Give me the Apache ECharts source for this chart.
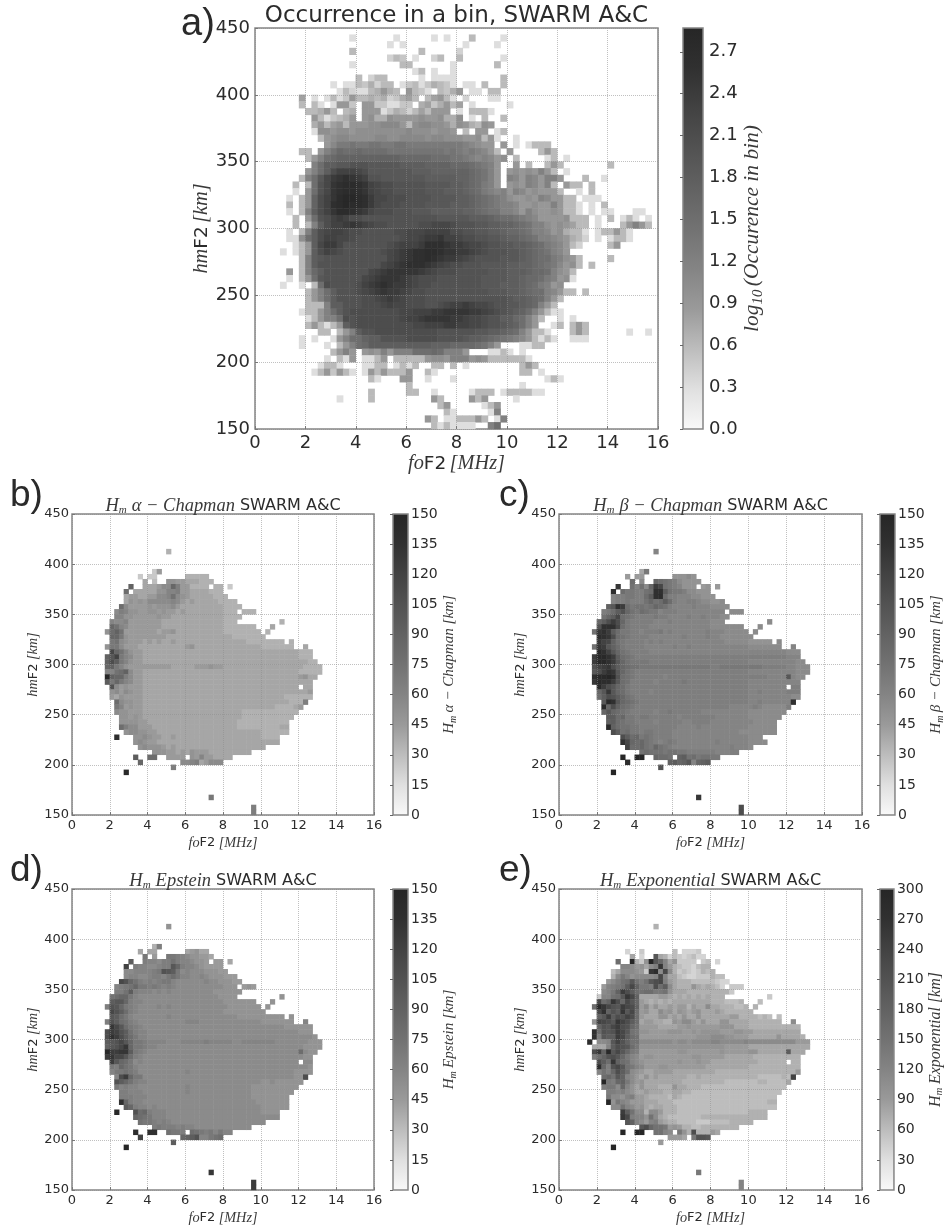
<!DOCTYPE html>
<html><head><meta charset="utf-8">
<style>html,body{margin:0;padding:0;background:#fff}#c{width:946px;height:1229px}</style>
<script src="https://cdn.jsdelivr.net/npm/echarts@6/dist/echarts.min.js"></script>
</head><body><div id="c"></div>
<script>
// Each string is one row of bins, top row = 445-450 km. Each character is one 0.25 MHz bin ('.' = empty),
// base-36; spaces only group the bins into 2 MHz blocks for reading.
// Occurrence: char x 0.1 = log10(count)
const occurrenceRows=[
"",
"........ .......3 ......3. ....3.3. ..6....3",
"........ ........ .....3.3 ........ .3....3.",
"........ .......6 ........ ..6..... 4",
"........ ........ .....465 .3..46.. 6......3",
"........ .......3 .......6 6......3 ......6",
"........ ........ ........ .36.3..3",
"........ ........ 6.466... ..3.3333 .......6",
"........ ....3.33 657466.3 56357653 .33.6..6",
"........ .....364 3367976. 9653.657 9.33.66",
".......8 .3.36359 66767457 86.68963 .4...33",
".......6 .63.3995 .9955335 5.785796 8.3..... 3",
"........ 66796.67 .9993576 4686999. 3.6663",
"........ .9635679 .9a77a99 99a99a77 a.3.6..6",
"........ .7968969 99aabbb9 6abbaa97 a976a9.",
"........ .3aa9aa9 aaaaaaaa baaa9aa9 .6.99.36",
"........ ..69abba aaabbaab bbbabbaa a99a693. .3",
"........ ...9bdde ddeeddee dddddddd dcba99.9 .3.3666.",
".......6 6.9cegff gffffeee eeeeeede dcdcb96. 9....696",
"........ 69cfghhh hhhhhhhg ggggfffe edcbcb9a .6....36 .3",
"........ .cfiijjk kkjjjjji iiihhhhg ggfedc9. .9.6..69 6....... 6",
"........ 9cfilnnn mljjjjjj jiiihhhh hhgfec9. 9a9a9c96 .3",
".......6 cfjmopqp onkkjjjj jjjiiiii hhgfec9. cb9cb9cc 9...6..3",
"......6. 6fkmpqrr qpnmllkk kkkjjjji ihgfdc9. 9a9cb9c6 .966.6",
"......3. 9fkmpqrr qpnmllkk kkkjjjii ihgfdcbc 9cb9a999 6..3.6",
".....3.6 9hlnprss rqommlll kkkkjjjj iihgfedc a99a9cb9 966.333",
".....6.6 9hlnqrsr rqomlllk kkkjjjji iihgfedc cb99a99c 9663.3.6",
".....3.6 cilnprrq pomlllkk kjjjiiii ihhgfeec cb9ca99a 9663.3.3 3...33",
"......6. 9fklnonl lkkkkkkk kkkkkjjj jjiiihgf fedcb999 9a666.3. 6.363.3",
"......6. 6cilnnop onmllkkk kkllmmml kkkjjiih hgfecca9 a9866.3. ..69c96",
".....3.6 cilmnnml lkkkkkll mmmnnnnl lkkjjiih ggfeccb9 a7663.36 6963",
".....33a filnnmml kkkkkkkl mmnoopnn mllkkjji hhgfeccb a9764.3. 3663",
"......36 9imoomkk kkkkklmn nnoqqqpo onmmlkkj jiihgfdc b964.... 69",
"....3.36 9ilnmlkk kkkklmno pqqrrqpp oonmlkkk jjihgfec b9",
".......6 cijkkkkk kkkkkmno pqqrqpoo nmlkkkkj jjihgffd ca96.... 6",
".......6 cikkkkkk kkkkmnop qqqponml lkkkjjjj iihhgfed b9a6.6",
".....9.6 cgikkkkk kkmnoppp pponmlll kkkkkjjj iiihggfc a96",
".....3.6 9fjkkkkk kmnopppo nmlllkkk kkkkjjjj iihggfdc 9a3",
"....3..3 .6flkkkk lnopqpoo nmllkkkk kkkkjjji iihgfdc9 a",
"........ 69cfikkk lmnopoon mllkkkkk kkkkkjjj iihgffcb 966.6",
"........ 69cfikkk kllmnonm lllkkkkk kkkkkkkk jiihgfc9 6",
"........ 666ciikk klllmnmm lllkklmn nonmmlkk jjihgc96",
".......3 669cfikl lllllllm mnnnoopp ppoonmlk jihfc963 3",
"........ 369ccflk lllllllm nnoppppo onmmlkki igfc96.. 3.3",
"........ 696369ik llllllll lmmnnnoo nnmmlkkj ihfc9..3 6.696",
"........ ..66.69c ikklllll lllllkkk kkkjjiih gfc9663. ..696... ...3..3.",
".......3 .3..39cf fhiikkkk lllllkkk kjiihgfe dcb96363 ..333",
".......3 ...3.69c fgiiiiii iiiihhhg gggfec9. ..3366",
"........ ....69c9 .9a9c9cc cfffgfcc c9...336 3.3",
"........ ...3.639 .3369.66 6669aa9c cc9a9666 6663",
"........ ..3663.. .3366.36 36..66.6 .3...... ..696",
"........ .3695963 .3969666 9..63... ........ ..66.3",
"........ ........ ..63...9 9..3...3 ........ ......36 3",
"........ ........ ........ 6....... ........ ..3",
"........ ........ ..6..... 66..3... ..3666.3 666633",
"........ .....3.. ..6..... ....96.. ..969... .3",
"........ ........ ........ .....69. ....369",
"........ ........ ........ ......63 .....3c",
"........ ........ ........ ...96.33 66696.3c",
"........ ........ ........ ....6363 333..cf"
];
// Alpha-Chapman: char x 5 km
const alphaRows=[
"","","","","","","",
"........ ........ ....7",
"","","",
"........ ........ .59",
"........ ......5. 55...... 77777",
"........ .......8 .6..aa99 888777..",
"........ ....i..8 889bbhd9 97777.77 .5",
"........ ...g.888 88aaccd9 98888777",
"........ ...89988 99bbcfba 98888877 7",
"........ ...8a9a9 bbbbbcb9 89888887 777",
"........ ..gb9999 a9aaab98 88888888 7777",
"........ .bdcaa99 aa9a9989 88888888 777.777",
"........ .ccaa999 99a99888 88888888 7777",
"........ cbbc9999 99988888 88888888 777..... ....7",
"........ hfcb9999 99988888 88888888 7777777. ..8",
".......a gif99999 99899a88 88888888 77777777 .7",
"........ hhea9999 99998888 88888888 88777777 7",
"........ efba9998 98988988 88888888 88888777 77777.7.",
".......a eeb99988 88888888 9a888888 88888888 7777777. .8",
"........ nhfca998 88888888 88888888 88888888 88888888 777",
".......i koecb998 88888888 88888888 88888888 88888888 777",
".......i mjeca998 88888888 88888888 88888888 88888888 8877",
".......h ieca9999 99999888 88999a99 88888888 88888888 87777",
".......c cfgib998 88888888 88888888 88888888 88888888 77777",
".......u ihhdb998 88888888 88888888 88888888 88888888 9a88",
".......j ehecb998 88888888 88888888 88888888 88888888 888",
"........ lb9a9998 88888888 88888888 88888888 88888888 .88",
"........ ab9ba998 88888888 88888888 88888888 88888888 889",
"........ 98a99998 88888888 88888888 88888888 88888777 777",
"........ .gbaa998 88888888 88888888 88888888 88888877 7d",
"........ .ec9a998 88888888 88888888 88888888 88877778 9",
"........ .baa9998 88888888 88888888 88887777 77777777",
"........ ..aa9a98 88888888 88888888 88887777 7777777",
"........ ..aaaa99 88888888 88888888 88877777 777777",
"........ ..gdbb99 98888888 88888888 88877777 777788",
"........ ...abbaa 99888888 88888888 88888888 777777",
"........ .s...aab a9988988 88888888 88888888 7777",
"........ .....aba 99888888 88888888 88888888 8888",
"........ ......ab aaa98988 88888888 88888888 8",
"........ ........ .aaa9989 8a999888 888888",
"........ .....j.. gg..9999 .a9c9988 88",
"........ ......h. .......b bcd89bbb",
"........ ........ .....d",
"........ ...t",
"","","","",
"........ ........ ........ .....e",
"",
"........ ........ ........ ........ ......d",
"........ ........ ........ ........ ......d",
"........ ........ ........ ........ .....e"
];
// Beta-Chapman: char x 5 km
const betaRows=[
"","","","","","","",
"........ ........ ....c",
"","","",
"........ ........ .8e",
"........ ......9. 99...... aaaba",
"........ .......g .b..hgfe dbaaaa..",
"........ ....q..f cfbhpnfe dcaaa.9a .9",
"........ ...s.gee ddfgrrjf eedbbaaa",
"........ ...cddee ddgjrsgd dcccbbaa a",
"........ ...cdded ddfhfgjg dccddcbb aab",
"........ ..ikrpge ffefhgfd ccccdccc bbbb",
"........ .degjlhf egfeecdd dccccccc ccc.bbb",
"........ .fhjngfe ddddeddc cccdccdc ccbb",
"........ hjmpmhed ddddcccd cccccccc bbb..... ....b",
"........ lrrrnged dddccccc cccccccc bbbbbbb. ..b",
".......f qrpjgeed dcdddecd cccccccd cccbbbbb .b",
"........ srqmgfed dddccccc ccdccccd ccbbbbbb b",
"........ qonifedd ddcdcdcc cccccccc cccbbbbb aaaaa.b.",
".......f qpkigedd ddcccccc dccdcccc cccccccc bbbbbbb. .c",
"........ trokhfed dddccccc cccccccc cccccccc cccccccc bbb",
".......p ttrpjgfe dddddddd dddddddd dddddddd dddddddd ccc",
".......p ttrpkhfe eeeddddd dddddddd dddddddd cccccccc ccbb",
".......l opqmjhgf feeeeeee eeeeeeee ddeeeeee eeeddddd ccbbb",
".......k mprqkhfe dddddddd dddddddd dddddddd cccccccc ccbbb",
".......s ttuslgfe ddddddcd dddddddd dddddddd ddddcccc kcbb",
".......q tsspkgfd ddddcddd ddeddddd dddddddd cccccccc ccc",
"........ tpmkhged dddddddd dddddddd dddddddd cccccccc .dd",
"........ hkqkhged dddcdddd dddddddd dddddddd ccdccccc ddd",
"........ gjmljhfe dddddddd dddddddd dddddddd cccccccc cbb",
"........ .ktrkhgf eddddddd dddddddd dddddddd ccdccccc cr",
"........ .thmigfe dddddddd dddddddd ddddcccc cdcbbbbb d",
"........ .hkhgfed ddddcdde ddddddcc cccccccc bbbbbbbb",
"........ ..jjghee deeddddd dcdddddd dccccccc bbbbbbb",
"........ ..ijgfee ddddcddd ddccdddd cccccccc cbbbbb",
"........ ..tigffe eddddddd dccccdcc cccccccc bbbbbb",
"........ ...mjfge edeedddd cccccccc ccccccbb bbbbbb",
"........ .....mjg hefedddd cccccccc cccccccc bbb",
"........ .....rnh ghfedcde dccccccc cdcccccc bbbb",
"........ ......og ghfehfed cccccccc ccccdccc b",
"........ ........ .fgfffef feeddddd dcccdd",
"........ .....u.. uu..hggf .ijfgeff ee",
"........ ......s. .......i jhikchij",
"........ ........ .....l",
"........ ...u",
"","","","",
"........ ........ ........ .....q",
"",
"........ ........ ........ ........ ......m",
"........ ........ ........ ........ ......m",
"........ ........ ........ ........ .....o"
];
// Epstein: char x 5 km
const epsteinRows=[
"","","","","","","",
"........ ........ ....a",
"","","",
"........ ........ .7d",
"........ ......8. 88...... 89a88",
"........ .......e .9..eedc baa998..",
"........ ....j..d ccbddfdc cbaa9.99 .8",
"........ ...o.dcc bbcddkhd ccba9999",
"........ ...bbccc cdelkjeb cbbbaaa9 9",
"........ ...bccbb cddcegec cbbcbaaa 999",
"........ ..nlhfdc dcdeecbb bbbbcbba aa99",
"........ .cdefhee dedcdcbb bbbbbbbb aaa.9a9",
"........ .ddfjdcc cbcbcbbb bbbbbbaa aaaa",
"........ fghhecbb bbbbbbbb bbbbbbba aaa..... ....a",
"........ jkkhdccb bbbbbbbb bbbbbbbb aaaaaaa. ..a",
".......d lkhedcbb bbcbcbbb bbbbbbbb baaaaaaa .a",
"........ nljgdcbb bbbbbbbb bbbbbbbb aaaaaaaa a",
"........ kjgecbbb bbbbcbbb bbbbbbbb bbbaaaaa aaaaa.a.",
".......d ljgfdcbb bbbbbbbb cccbbbbb bbbbbbbb aaaaaaa. .c",
"........ qnkgedcb bbbbbbbb bbbbbbbb bbbbbbbb bbbbbaaa aaa",
".......m poljfdcc bbbbbbbb bbbbbbbb bbbbbbbb bbbbbbbb aaa",
".......m rpmjgecc bbbbbbbb bbbbbbbb bbbbbbbb bbbbbbbb bbba",
".......j klnkheed ccccbbbc ccccdccc ccbbcccc cccbbbbb bbaaa",
".......i klnqheed ccbbbbbb bbbbbbbb bbbbbbbb bbbbbbbb baaaa",
".......t ppqqjedc bbbbbbbb bbbbbbbb bbbbbbbb bbbbbbbb gbaa",
".......p qnnkgdcb bbbbbbbb bbbbbbbb bbbbbbbb bbbbbbbb baa",
"........ pkhgebcb bbbbbbbb bbbbbbbb bbbbbbbb bbbbbbbb .bb",
"........ edhfecbb bbbbbbbb bbbbbbbb bbbbbbbb bbbbbbbb bba",
"........ ceefedbb bbbbbbbb cbbbbbbb bbbbbbbb bbbbbbba aaa",
"........ .cmpheeb bbbbbbbb bbbbbbbb bbbbbbbb bbbbbbba am",
"........ .ljhfdcc bbbbbbbb bbbbbbbb bbbbbbbb aabaaaaa a",
"........ .ecdccbb bbbbbbbb cbbbbbbb bbbbbbaa aaaaaaaa",
"........ ..ddcccb bbbbbbbb cbbbbbbb bbbbbbaa aaaaaaa",
"........ ..dddccc bbbbbbbb bbbbbbbb bbbbbbaa aaaaaa",
"........ ..rhdccb bbbbbbbb bbbbbbbb bbbbbbba aaaaaa",
"........ ...jhdcc bcbbbbbb bbbbbbbb bbbbbbbb aaaaaa",
"........ .t...lgh dcccbbbb bbbbbbbb bbbbbbbb aaaa",
"........ .....hgf ecccbbbb bbbbbbbb bbbbbbbb bbbb",
"........ ......fe edcdcbbb bbbbbbbb bbbbbbbb b",
"........ ........ .dedddcd ccbbbbbb bbbbbb",
"........ .....s.. rr..feed .gfedece cc",
"........ ......o. .......h ijlccefg",
"........ ........ .....j",
"........ ...u",
"","","","",
"........ ........ ........ .....q",
"",
"........ ........ ........ ........ ......p",
"........ ........ ........ ........ ......p",
"........ ........ ........ ........ .....o"
];
// Exponential: char x 10 km
const exponentialRows=[
"","","","","","","",
"........ ........ ....7",
"","","","",
"........ ......4. .5...... 6.4445",
"........ .......8 .4..k874 6545644.",
"........ ....g..u 75aukhc8 a5555.56 .4",
"........ .....ccb 9a8bdqc9 76554677",
"........ ...68bbb a95qsbnb 75654576 7",
"........ ...7beca bbbbcnc8 86544555 766",
"........ ..9bdfgk fdfkmnd9 87776666 6544",
"........ .9cdefjn ieedmgjb 8777a878 764.555",
"........ .bceipmj gfggeefa 88877777 77775",
"........ 5ccfgkqn i8888998 78787878 777..... ....5",
"........ ngiqmhnk h9878787 88888888 7776667. ..6",
".......g tqnlkpnm i9b8a889 8997988b 88777667 .7",
"........ nriljqkn g9a88b9a 8a989a88 89877777 7",
"........ ikpjmlom g9888aa8 98a88a88 88889977 77676.6.",
".......a onmkqomj g8998877 a9bb98a8 88aa8888 7777777. .b",
"........ ilknpmlh f9999888 899a9999 99aaa888 77777777 777",
".......r glklpnkf eaa9999a aa99a9aa aa999aa9 98888888 888",
".......r dkjjpnjg f9999999 99999aaa bbbaa999 888888a8 8887",
"......s. bbckolif fbbbbbbb abbabbbb ccbbbbbc bbbbbbbb bb999",
".......8 88cjmlkg eaaaaaaa aaaaaaaa aaa99999 88888888 88888",
".......m qitknkhe d9999999 9aa99999 99a99999 aa888888 j888",
".......d gilmkhec b9aa9999 9999aa99 99988888 87777777 777",
"........ mjgqigfc ba999999 9a999a99 88888888 88777777 .77",
"........ shdlnkfe cb999aa9 99999998 88888888 77777777 777",
"........ cfdhmjgb a9889999 88888888 87777777 77777777 779",
"........ .ghfkicb 98a89888 88877877 77777777 77666667 6o",
"........ .uedhieb 9a888888 88777777 77766666 66776666 8",
"........ .deebhca 8a888777 a8877766 66666666 66666666",
"........ ..ddcdba 88988877 88776666 66666666 6666666",
"........ ..ebbacd 99877776 87666666 66666666 666666",
"........ ..uaecb9 99888777 66666666 66666666 666677",
"........ ...bbfcb 9a878877 76666666 66666666 666666",
"........ .....pjf bb7bb977 76666666 66666666 7777",
"........ .....qnd ccafb876 66666677 77777777 7777",
"........ ......ki cb9cd987 76666555 66667777 7",
"........ ........ .kmhffe9 a9776677 777777",
"........ .....u.. uu..ffcb .ea7m777 98",
"........ ........ .......9 998.ellk",
"........ ........ .....9",
"........ ...u",
"","","","",
"........ ........ ........ .....e",
"",
"........ ........ ........ ........ ......c",
"........ ........ ........ ........ ......c",
"........ ........ ........ ........ .....c"
];
const occurrenceStep=0.1, kmStep=5, exponentialStep=10;
const xTickLabels=[0,2,4,6,8,10,12,14,16];
const yTickLabels=[150,200,250,300,350,400,450];
const foBins=Array.from({length:64},(_,i)=>String(i*0.25));
const hmBins=Array.from({length:60},(_,i)=>String(150+i*5));
const grayStops=['#f9f9f9','#e0e0e0','#bdbdbd','#9a9a9a','#848484','#727272','#626262','#525252','#424242','#303030','#262626'];

function cells(rows,step){
  const out=[];
  rows.forEach((raw,r)=>{
    const row=raw.replace(/ /g,'');
    for(let c=0;c<row.length;c++){
      if(row[c]==='.') continue;
      out.push([c,59-r,parseInt(row[c],36)*step]);
    }
  });
  return out;
}
const SER='"Liberation Serif",serif', SAN='"DejaVu Sans",sans-serif';
const INK='#2b2b2b';
function richSet(fs,k){return {
  i:{fontFamily:SER,fontStyle:'italic',fontWeight:'normal',fontSize:fs*(k||1.1),color:'#3a3a3a'},
  s:{fontFamily:SAN,fontWeight:'normal',fontSize:fs,color:INK},
  sub:{fontFamily:SER,fontStyle:'italic',fontWeight:'normal',fontSize:Math.round(fs*0.75),color:'#3a3a3a',verticalAlign:'bottom',lineHeight:fs*1.3},
  t:{fontFamily:SAN,fontWeight:'normal',fontSize:fs+2,color:INK}
};}
const panels=[
 {key:'a)',rows:occurrenceRows,step:occurrenceStep,max:2.87,cbStep:0.3,dec:1,box:[255,28,403,401],cb:[683,20],fs:18,nfs:18.5,cbNfs:19.5,cbFs:18,letter:[181,6,38],
  title:'{t|Occurrence in a bin, SWARM A&C}',titleFs:21,titleTop:5,
  cbName:'{i|log}{sub|10} {i|(Occurence in bin)}',cbGap:37,xGap:25,yGap:38,cbMargin:6},
 {key:'b)',rows:alphaRows,step:kmStep,max:150,cbStep:15,dec:0,box:[72,514,302,301],cb:[393,15],fs:13,nfs:13,cbNfs:13.7,cbFs:14,letter:[10,477,37],
  title:'{i|H}{sub|m} {i|α − Chapman} {t|SWARM A&C}',titleFs:14,titleTop:497,
  cbName:'{i|H}{sub|m} {i|α − Chapman [km]}',cbGap:31,xGap:21,yGap:29,cbMargin:3},
 {key:'c)',rows:betaRows,step:kmStep,max:150,cbStep:15,dec:0,box:[559,514,303,301],cb:[880,15],fs:13,nfs:13,cbNfs:13.7,cbFs:14,letter:[499,477,37],
  title:'{i|H}{sub|m} {i|β − Chapman} {t|SWARM A&C}',titleFs:14,titleTop:497,
  cbName:'{i|H}{sub|m} {i|β − Chapman [km]}',cbGap:32,xGap:21,yGap:29,cbMargin:3},
 {key:'d)',rows:epsteinRows,step:kmStep,max:150,cbStep:15,dec:0,box:[72,889,302,301],cb:[393,15],fs:13,nfs:13,cbNfs:13.7,cbFs:14,letter:[10,852,37],
  title:'{i|H}{sub|m} {i|Epstein} {t|SWARM A&C}',titleFs:14,titleTop:872,
  cbName:'{i|H}{sub|m} {i|Epstein [km]}',cbGap:31,xGap:21,yGap:29,cbMargin:3},
 {key:'e)',rows:exponentialRows,step:exponentialStep,max:300,cbStep:30,dec:0,box:[559,889,303,301],cb:[880,15],fs:13,nfs:13,cbNfs:14.5,cbFs:14,letter:[499,852,37],
  title:'{i|H}{sub|m} {i|Exponential} {t|SWARM A&C}',titleFs:14,titleTop:872,
  cbName:'{i|H}{sub|m} {i|Exponential [km]}',cbGap:32,xGap:21,yGap:29,cbMargin:3}
];
const dotted={show:true,lineStyle:{color:'rgba(140,140,140,0.55)',type:'dotted',width:1}};
const option={animation:false,backgroundColor:'#fff',grid:[],xAxis:[],yAxis:[],series:[],visualMap:[],title:[]};
const barStops=grayStops.map((color,k)=>({offset:k/(grayStops.length-1),color}));
panels.forEach((p,i)=>{
  const [l,t,w,h]=p.box;
  const g=option.grid.length;
  option.grid.push({left:l,top:t,width:w,height:h,show:true,borderColor:'#858585',borderWidth:1.5,backgroundColor:'#fff'});
  const axisCommon={type:'value',gridIndex:g,z:3,
    axisLine:{show:false},
    axisTick:{show:true,inside:true,length:3,lineStyle:{color:'#777'}},
    splitLine:dotted,
    axisLabel:{fontFamily:SAN,fontSize:p.fs,color:INK,showMinLabel:true,showMaxLabel:true,hideOverlap:false}};
  const xVal=option.xAxis.length;
  option.xAxis.push({...axisCommon,position:'bottom',min:xTickLabels[0],max:xTickLabels[xTickLabels.length-1],interval:2,
    axisLabel:{...axisCommon.axisLabel,margin:p.fs>15?5:4},
    name:'{i|fo}{s|F2} {i|[MHz]}',nameLocation:'middle',nameGap:p.xGap,
    nameTextStyle:{rich:richSet(p.nfs)}});
  option.xAxis.push({type:'category',gridIndex:g,position:'top',show:false,data:foBins,boundaryGap:true});
  const yVal=option.yAxis.length;
  option.yAxis.push({...axisCommon,position:'left',min:yTickLabels[0],max:yTickLabels[yTickLabels.length-1],interval:50,
    axisLabel:{...axisCommon.axisLabel,margin:p.fs>15?5:3},
    name:'{i|hm}{s|F2} {i|[km]}',nameLocation:'middle',nameRotate:90,nameGap:p.yGap,
    nameTextStyle:{rich:richSet(p.nfs)}});
  option.yAxis.push({type:'category',gridIndex:g,position:'right',show:false,data:hmBins,boundaryGap:true});
  option.series.push({type:'heatmap',name:p.key,xAxisIndex:xVal+1,yAxisIndex:yVal+1,data:cells(p.rows,p.step),
    itemStyle:{borderWidth:0},emphasis:{disabled:true},progressive:0,silent:true});
  option.visualMap.push({type:'continuous',seriesIndex:i,dimension:2,min:0,max:p.max,show:false,inRange:{color:grayStops}});
  // colour bar: a gradient panel with its own value axis
  const g2=option.grid.length;
  option.grid.push({left:p.cb[0],top:t,width:p.cb[1],height:h,show:true,borderColor:'#858585',borderWidth:1.5,
    backgroundColor:{type:'linear',x:0,y:1,x2:0,y2:0,colorStops:barStops}});
  option.xAxis.push({type:'value',gridIndex:g2,show:false,min:0,max:1});
  option.yAxis.push({type:'value',gridIndex:g2,position:'right',min:0,max:p.max,interval:p.cbStep,z:6,
    axisLine:{show:false},
    axisTick:{show:true,inside:true,length:3,lineStyle:{color:'#666'}},splitLine:{show:false},
    axisLabel:{fontFamily:SAN,fontSize:p.cbFs,color:INK,margin:p.cbMargin,showMinLabel:true,showMaxLabel:p.max!==2.87,
      formatter:v=>Number(v).toFixed(p.dec)},
    name:p.cbName,nameLocation:'middle',nameRotate:90,nameGap:p.cbGap,
    nameTextStyle:{rich:richSet(p.cbNfs)}});
  option.title.push({text:p.title,left:l+w/2,textAlign:'center',top:p.titleTop,padding:0,
    textStyle:{fontWeight:'normal',rich:richSet(p.titleFs,1.32)}});
  option.title.push({text:p.key,left:p.letter[0],top:p.letter[1],padding:0,
    textStyle:{fontFamily:'"Liberation Sans",Arial,sans-serif',fontWeight:'normal',fontSize:p.letter[2],color:'#2a2a2a'}});
});
const chart=echarts.init(document.getElementById('c'),null,{renderer:'canvas'});
chart.setOption(option);
</script></body></html>
